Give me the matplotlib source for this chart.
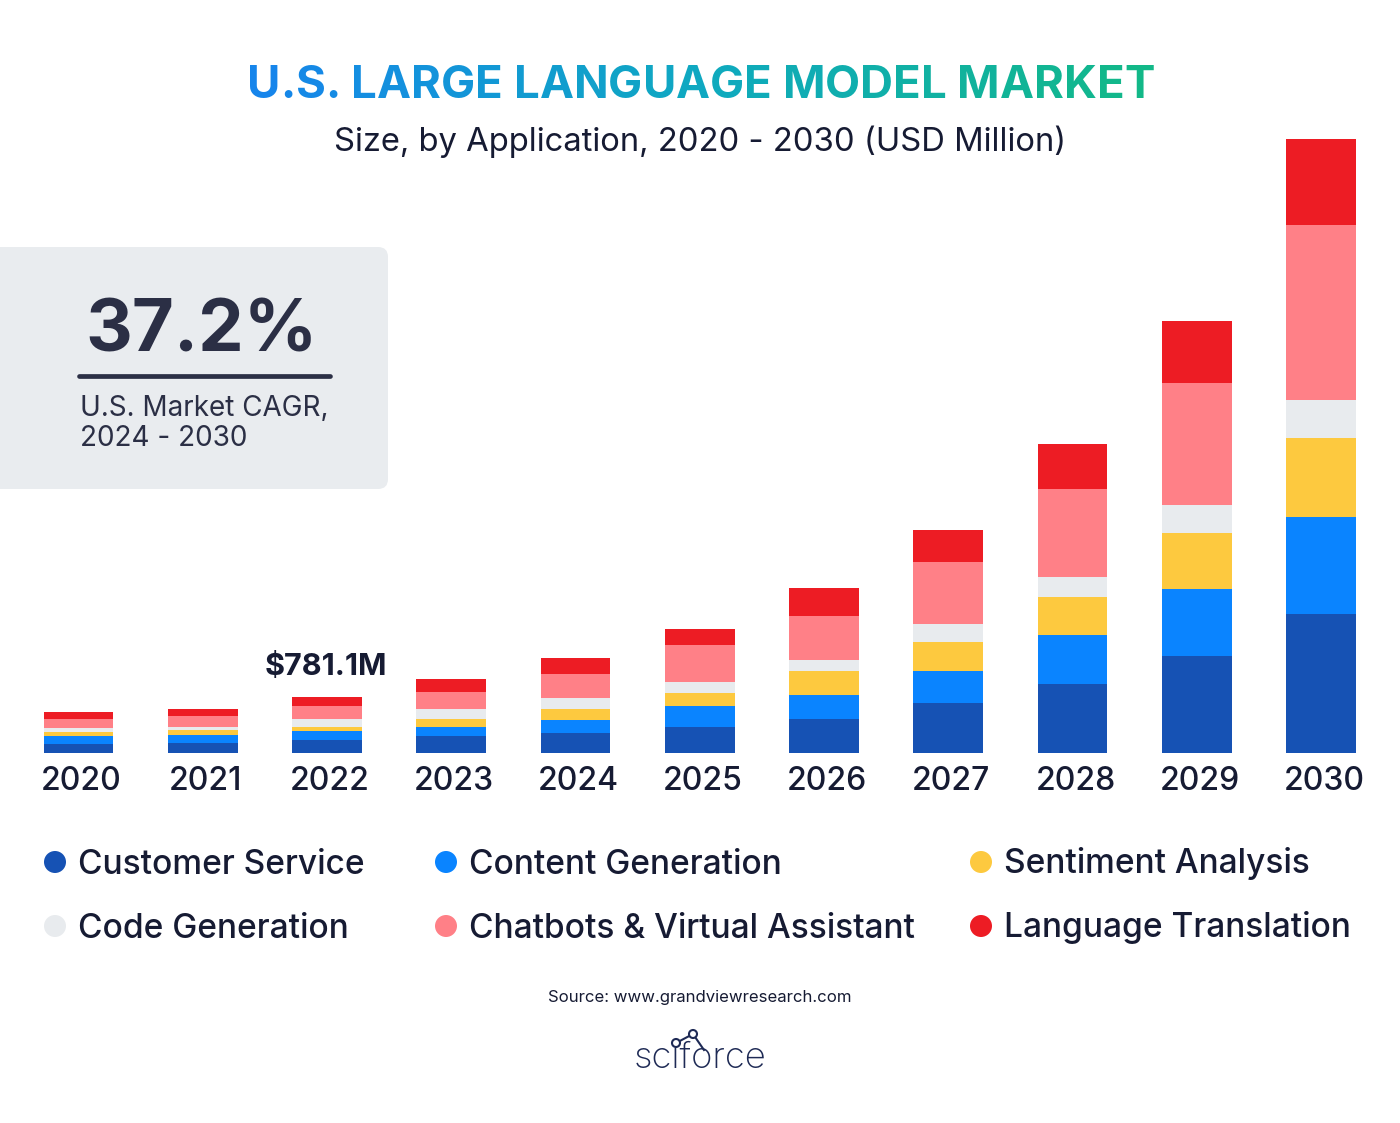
import matplotlib
matplotlib.use("Agg")
import matplotlib.pyplot as plt
import numpy as np
from matplotlib.patches import FancyBboxPatch, Circle
from matplotlib.colors import LinearSegmentedColormap

# data (USD Million)
years = ["2020", "2021", "2022", "2023", "2024", "2025", "2026", "2027", "2028", "2029", "2030"]
customer_service = [125, 139, 184, 232, 273, 365, 476, 694, 961, 1347, 1924]
content_generation = [111, 115, 117, 129, 180, 291, 333, 448, 670, 928, 1354]
sentiment_analysis = [60, 65, 60, 111, 153, 176, 333, 398, 527, 780, 1086]
code_generation = [47, 42, 111, 135, 153, 153, 153, 244, 287, 379, 531]
chatbots = [129, 153, 180, 240, 337, 513, 601, 860, 1221, 1702, 2437]
language_translation = [93, 93, 129.1, 180, 218, 222, 398, 449, 624, 860, 1193]

series_names = ["Customer Service", "Content Generation", "Sentiment Analysis",
                "Code Generation", "Chatbots & Virtual Assistant", "Language Translation"]
series = [customer_service, content_generation, sentiment_analysis,
          code_generation, chatbots, language_translation]
colors = ["#1652B4", "#0A84FF", "#FDC93F", "#E8EBEE", "#FF8087", "#ED1C24"]

title = "U.S. LARGE LANGUAGE MODEL MARKET"
subtitle = "Size, by Application, 2020 - 2030 (USD Million)"
cagr = "37.2%"
highlight = "$781.1M"

FONT = "Inter"
DARK = "#161B33"
W, H = 1400, 1123

fig = plt.figure(figsize=(W / 100, H / 100), dpi=100)
fig.patch.set_facecolor("white")
renderer = fig.canvas.get_renderer()

# bar axes: baseline at y=753px, x centres from 78 to 1321px
ax = fig.add_axes([16.4 / W, 1 - 753 / H, 1366.7 / W, 653 / H])
x = np.arange(len(years))
bottom = np.zeros(len(years))
for vals, col in zip(series, colors):
    ax.bar(x, vals, width=0.563, bottom=bottom, color=col, linewidth=0)
    bottom += np.array(vals)
ax.set_xlim(-0.5, len(years) - 0.5)
ax.set_ylim(0, 9060)
ax.axis("off")

# overlay in pixel coordinates for all the decoration
ov = fig.add_axes([0, 0, 1, 1], zorder=5)
ov.set_facecolor("none")
ov.set_xlim(0, W)
ov.set_ylim(H, 0)
ov.axis("off")


def text_width(s, size, **kw):
    t = ov.text(0, 0, s, fontsize=size, family=FONT, **kw)
    w = t.get_window_extent(renderer).width
    t.remove()
    return w


def fit_size(s, width, **kw):
    return 40 * width / text_width(s, 40, **kw)


# title with a left-to-right colour gradient, one character at a time
cmap = LinearSegmentedColormap.from_list("t", ["#1684EC", "#0FA9C0", "#12B886"])
t_left, t_width = 247, 908
t_size = fit_size(title, t_width, fontweight="bold")
for i, ch in enumerate(title):
    if ch == " ":
        continue
    right = t_left + text_width(title[:i + 1], t_size, fontweight="bold")
    cw = text_width(ch, t_size, fontweight="bold")
    frac = (right - cw / 2 - t_left) / t_width
    ov.text(right, 98, ch, ha="right", va="baseline", fontsize=t_size,
            fontweight="bold", family=FONT, color=cmap(frac))

ov.text(700, 151, subtitle, ha="center", va="baseline",
        fontsize=fit_size(subtitle, 732), family=FONT, color=DARK)

# CAGR box
box = FancyBboxPatch((-20, 247), 408, 242, boxstyle="round,pad=0,rounding_size=10",
                     facecolor="#E9ECEF", edgecolor="none")
ov.add_patch(box)
ov.text(85, 351, cagr, ha="left", va="baseline", fontsize=fit_size(cagr, 232, fontweight="bold"),
        fontweight="bold", family=FONT, color="#2B2F45")
ov.plot([79, 330], [376, 376], color="#2B2F45", lw=3.4, solid_capstyle="round")
cagr_size = fit_size("U.S. Market CAGR,", 249)
ov.text(80, 416, "U.S. Market CAGR,", ha="left", va="baseline", fontsize=cagr_size,
        family=FONT, color="#2B2F45")
ov.text(80, 446, "2024 - 2030", ha="left", va="baseline", fontsize=cagr_size,
        family=FONT, color="#2B2F45")

# value label above 2022
ov.text(326, 675, highlight, ha="center", va="baseline", fontsize=22, fontweight="bold",
        family=FONT, color=DARK)

# year labels
for i, yr in enumerate(years):
    px = 81.5 + i * 124.25
    ov.text(px, 790, yr, ha="center", va="baseline", fontsize=23, fontweight="medium",
            family=FONT, color=DARK)

# legend
leg_x = [55, 446, 981]
leg_y = [862, 926]
leg_size = fit_size("Chatbots & Virtual Assistant", 446, fontweight="medium")
for k, (name, col) in enumerate(zip(series_names, colors)):
    cx = leg_x[k % 3]
    cy = leg_y[k // 3]
    ov.add_patch(Circle((cx, cy), 11, facecolor=col, edgecolor="none"))
    ov.text(cx + 23, cy + 11.5, name, ha="left", va="baseline", fontsize=leg_size,
            fontweight="medium", family=FONT, color=DARK)

src = "Source: www.grandviewresearch.com"
ov.text(700, 1002, src, ha="center", va="baseline",
        fontsize=fit_size(src, 304), family=FONT, color=DARK)

# sciforce logo
ov.text(700, 1068, "sciforce", ha="center", va="baseline",
        fontsize=fit_size("sciforce", 133, fontweight="light"),
        family=FONT, fontweight="light", color="#1E2A55")
ov.plot([676, 693, 704], [1043, 1034, 1050], color="#1E2A55", lw=1.5)
for cx, cy in [(676, 1043), (693, 1034)]:
    ov.add_patch(Circle((cx, cy), 4, facecolor="white", edgecolor="#1E2A55", lw=1.5, zorder=7))

ov.set_xlim(0, W)
ov.set_ylim(H, 0)

fig.savefig("out.png", dpi=100, facecolor="white")
